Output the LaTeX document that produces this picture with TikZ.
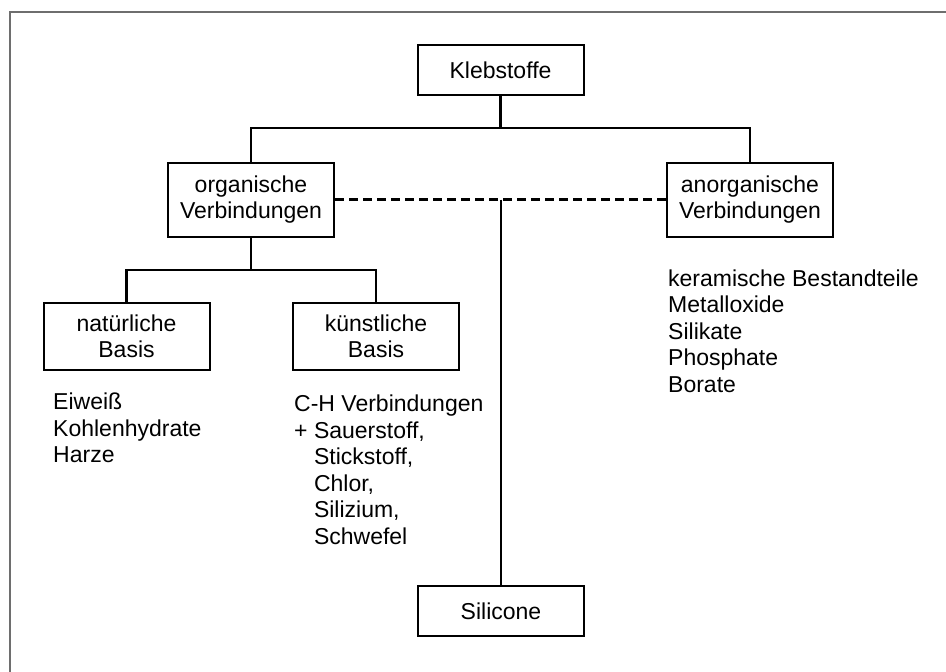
\documentclass[tikz,border=0pt]{standalone}
\usepackage{fontspec}
\setmainfont{Liberation Sans}
\usetikzlibrary{positioning}
\definecolor{rahmenGrau}{RGB}{110,110,110}

\begin{document}
\begin{tikzpicture}[x=1pt, y=-1pt, line cap=butt, line join=miter,
    kbox/.style={draw, line width=2pt, minimum width=166pt, inner sep=0pt,
      align=center, font=\fontsize{23}{26.4}\selectfont},
    liste/.style={anchor=base west, inner sep=0pt, align=left,
      font=\fontsize{23}{26.5}\selectfont},
    ast/.style={line width=2.4pt}]
        \useasboundingbox (0,0) rectangle (946,672);
        \draw[rahmenGrau, line width=1.5pt] (10,672) -- (10,12) -- (946,12);
        \node[kbox, minimum height=50pt] (kleb) at (500.5,70) {Klebstoffe};
        \node[kbox, minimum height=74pt] (org) at (251,199.5) {organische\\Verbindungen};
        \node[kbox, minimum height=74pt] (anorg) at (750,199.5) {anorganische\\Verbindungen};
        \node[kbox, minimum height=67pt] (nat) at (126.5,336.5) {natürliche\\Basis};
        \node[kbox, minimum height=67pt] (kuenst) at (376,336.5) {künstliche\\Basis};
        \node[kbox, minimum height=50pt] (sil) at (501,611) {Silicone};
        \coordinate (gabel1) at (500.5,128);
        \coordinate (gabel2) at (251,270);
        \coordinate (mitte) at (sil.north |- org.east);
        \draw[ast] (kleb.south) -- (gabel1);
        \draw[ast] (org.north) |- (gabel1) -| (anorg.north);
        \draw[ast] (org.south) -- (gabel2);
        \draw[ast] (nat.north) |- (gabel2) -| (kuenst.north);
        \draw[line width=2.6pt, dash pattern=on 9pt off 5pt] (org.east) -- (anorg.west);
        \draw[line width=2.6pt] (mitte) -- (sil.north);
        % base anchor sits on the last line
        \node[liste] (eiweiss) at (53,462.7) {Eiweiß\\Kohlenhydrate\\Harze};
        \node[liste] (chverb) at (294,544) {C-H Verbindungen\\+ Sauerstoff,\\\hphantom{+\ }Stickstoff,\\\hphantom{+\ }Chlor,\\\hphantom{+\ }Silizium,\\\hphantom{+\ }Schwefel};
        \node[liste] (keram) at (668,392) {keramische Bestandteile\\Metalloxide\\Silikate\\Phosphate\\Borate};
    \end{tikzpicture}
\end{document}
